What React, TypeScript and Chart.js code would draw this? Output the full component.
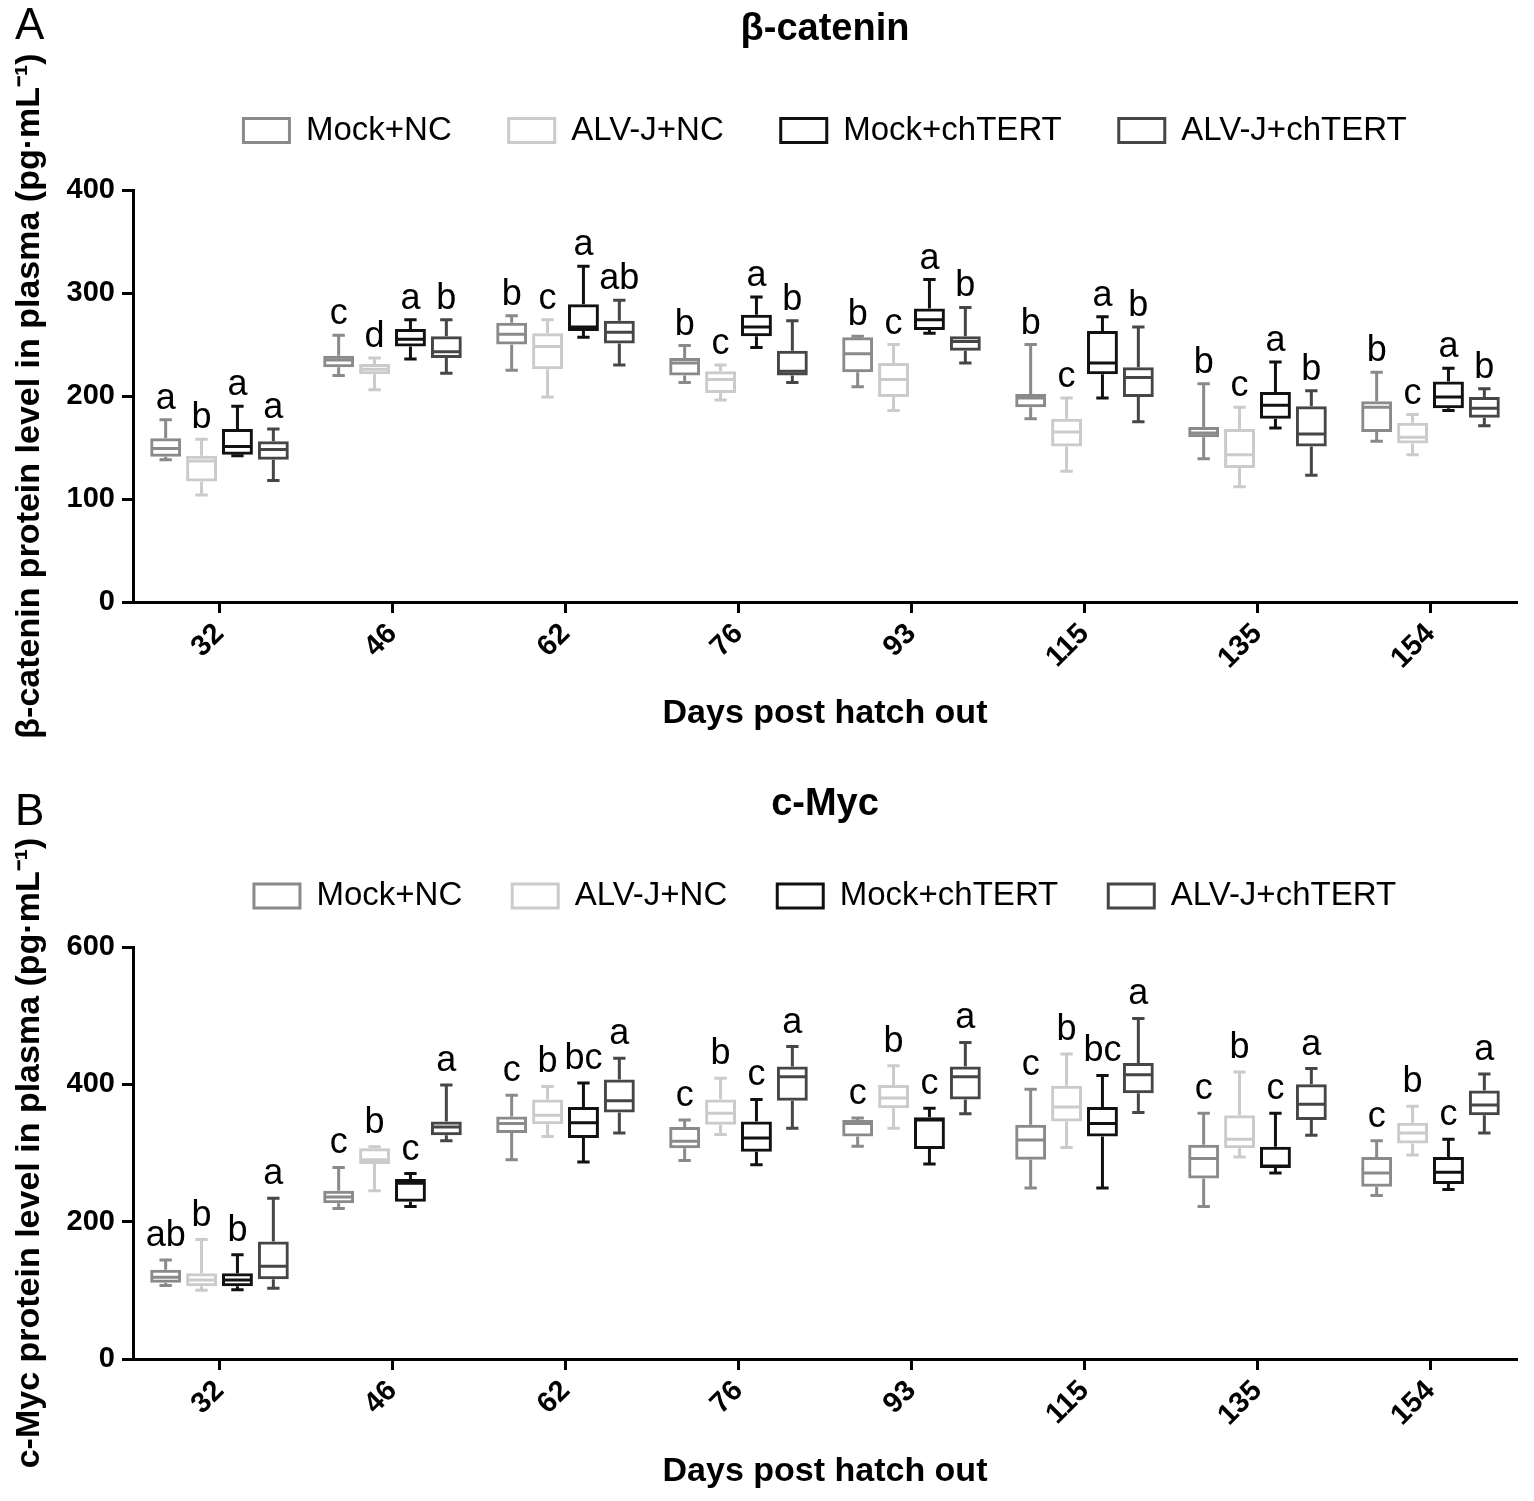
import React, { useEffect, useRef } from 'react';
import { Chart, registerables } from 'chart.js';

Chart.register(...registerables);

const FONT = '"Liberation Sans", Arial, Helvetica, sans-serif';

const days = ['32', '46', '62', '76', '93', '115', '135', '154'];
const groupNames = ['Mock+NC', 'ALV-J+NC', 'Mock+chTERT', 'ALV-J+chTERT'];
const groupColors = ['#8a8a8a', '#cbcbcb', '#111111', '#464646'];

// each entry: [min, q1, median, q3, max] per day
const bcatMockNC = [[138, 141, 149, 159, 177], [220, 228, 235, 239, 259], [225, 250, 260, 271, 278], [213, 220, 232, 237, 249], [209, 223, 241, 257, 258], [178, 189, 198, 202, 250], [139, 160, 164, 170, 212], [156, 165, 189, 195, 223]];
const bcatAlvNC = [[104, 117, 137, 142, 158], [206, 221, 226, 231, 237], [199, 226, 248, 261, 274], [196, 203, 216, 224, 230], [186, 199, 216, 232, 250], [127, 151, 165, 178, 198], [112, 130, 143, 168, 189], [143, 154, 160, 174, 182]];
const bcatMockTert = [[142, 143, 151, 168, 190], [236, 248, 255, 265, 274], [257, 263, 267, 289, 326], [247, 258, 267, 279, 296], [261, 264, 274, 285, 313], [198, 221, 232, 263, 277], [169, 178, 191, 204, 233], [186, 188, 199, 214, 227]];
const bcatAlvTert = [[118, 138, 148, 156, 168], [222, 237, 243, 258, 274], [230, 251, 262, 273, 293], [213, 220, 224, 244, 273], [232, 244, 253, 258, 286], [175, 199, 218, 228, 267], [123, 151, 163, 190, 205], [171, 179, 188, 199, 207]];
const bcatLetters = [['a', 'b', 'a', 'a'], ['c', 'd', 'a', 'b'], ['b', 'c', 'a', 'ab'], ['b', 'c', 'a', 'b'], ['b', 'c', 'a', 'b'], ['b', 'c', 'a', 'b'], ['b', 'c', 'a', 'b'], ['b', 'c', 'a', 'b']];

const mycMockNC = [[107, 111, 119, 130, 144], [219, 227, 236, 245, 279], [290, 329, 343, 353, 384], [289, 307, 317, 338, 348], [310, 324, 343, 348, 351], [249, 290, 319, 341, 393], [222, 263, 292, 312, 358], [238, 251, 271, 294, 318]];
const mycAlvNC = [[100, 106, 115, 125, 174], [245, 284, 290, 307, 309], [324, 342, 355, 378, 397], [327, 341, 358, 378, 409], [336, 365, 380, 399, 427], [308, 346, 367, 398, 444], [294, 307, 320, 355, 418], [297, 314, 329, 344, 368]];
const mycMockTert = [[101, 106, 115, 125, 152], [222, 229, 256, 262, 270], [287, 322, 344, 367, 402], [283, 302, 322, 346, 378], [284, 306, 348, 352, 365], [249, 324, 343, 367, 413], [271, 278, 281, 309, 358], [247, 255, 272, 294, 320]];
const mycAlvTert = [[103, 116, 135, 171, 234], [318, 326, 338, 346, 399], [329, 359, 376, 407, 438], [336, 376, 411, 426, 455], [357, 378, 411, 426, 461], [359, 387, 414, 431, 496], [326, 348, 371, 400, 423], [329, 355, 370, 391, 415]];
const mycLetters = [['ab', 'b', 'b', 'a'], ['c', 'b', 'c', 'a'], ['c', 'b', 'bc', 'a'], ['c', 'b', 'c', 'a'], ['c', 'b', 'c', 'a'], ['c', 'b', 'bc', 'a'], ['c', 'b', 'c', 'a'], ['c', 'b', 'c', 'a']];

const legendSpacer = {
  id: 'legendSpacer',
  beforeLayout(chart: any, _args: any, opts: any) {
    const lg = chart.legend;
    if (lg && !lg._spacerPatched) {
      const orig = lg.fit;
      lg.fit = function () {
        orig.call(this);
        this.height += (opts && opts.extra) || 0;
      };
      lg._spacerPatched = true;
    }
  },
};

const boxWhiskers = {
  id: 'boxWhiskers',
  afterDatasetsDraw(chart: any, _args: any, opts: any) {
    const ctx = chart.ctx;
    const ys = chart.scales.y;
    chart.data.datasets.forEach((ds: any, i: number) => {
      const meta = chart.getDatasetMeta(i);
      if (meta.hidden) return;
      meta.data.forEach((bar: any, j: number) => {
        const s = ds.stats[j];
        const { x, width } = bar.getProps(['x', 'width'], true);
        const half = width / 2;
        const cap = width * 0.2;
        const pMin = ys.getPixelForValue(s[0]);
        const pQ1 = ys.getPixelForValue(s[1]);
        const pMed = ys.getPixelForValue(s[2]);
        const pQ3 = ys.getPixelForValue(s[3]);
        const pMax = ys.getPixelForValue(s[4]);
        ctx.save();
        ctx.strokeStyle = ds.borderColor;
        ctx.lineWidth = 3;
        ctx.lineCap = 'butt';
        ctx.beginPath();
        ctx.moveTo(x - half + 1.5, pMed);
        ctx.lineTo(x + half - 1.5, pMed);
        ctx.moveTo(x, pQ3);
        ctx.lineTo(x, pMax);
        ctx.moveTo(x - cap, pMax);
        ctx.lineTo(x + cap, pMax);
        ctx.moveTo(x, pQ1);
        ctx.lineTo(x, pMin);
        ctx.moveTo(x - cap, pMin);
        ctx.lineTo(x + cap, pMin);
        ctx.stroke();
        ctx.fillStyle = '#000';
        ctx.font = `36px ${FONT}`;
        ctx.textAlign = 'center';
        ctx.textBaseline = 'alphabetic';
        ctx.fillText(ds.letters[j], x, pMax - (opts.gap || 10));
        ctx.restore();
      });
    });
  },
};

interface PanelSpec {
  title: string;
  yTitle: string;
  yMax: number;
  yStep: number;
  stats: number[][][];
  letters: string[][];
  height: number;
  titleTop: number;
  titleBottom: number;
  legendPad: number;
  legendExtra: number;
  xAxisHeight: number;
  bottomPad: number;
  letterGap: number;
}

function buildConfig(p: PanelSpec): any {
  const tickFont = { family: FONT, size: 29, weight: 'bold' as const };
  const axisTitleFont = { family: FONT, size: 34, weight: 'bold' as const };
  return {
    type: 'bar',
    data: {
      labels: days,
      datasets: groupNames.map((name, k) => ({
        label: name,
        data: p.stats[k].map((s) => [s[1], s[3]]),
        stats: p.stats[k],
        letters: p.letters.map((l) => l[k]),
        backgroundColor: 'rgba(255,255,255,0)',
        borderColor: groupColors[k],
        borderWidth: 3,
        borderSkipped: false,
        categoryPercentage: 0.83,
        barPercentage: 0.86,
      })),
    },
    options: {
      animation: false,
      responsive: false,
      maintainAspectRatio: false,
      events: [],
      layout: { padding: { top: 0, left: 0, right: 17, bottom: p.bottomPad } },
      plugins: {
        title: {
          display: true,
          text: p.title,
          color: '#000',
          fullSize: false,
          font: { family: FONT, size: 38, weight: 'bold' },
          padding: { top: p.titleTop, bottom: p.titleBottom },
        },
        legend: {
          display: true,
          position: 'top',
          fullSize: false,
          labels: {
            color: '#000',
            font: { family: FONT, size: 33 },
            boxWidth: 46,
            boxHeight: 24,
            padding: p.legendPad,
          },
        },
        tooltip: { enabled: false },
        legendSpacer: { extra: p.legendExtra },
        boxWhiskers: { gap: p.letterGap },
      },
      scales: {
        x: {
          grid: { display: true, drawOnChartArea: false, drawTicks: true, tickLength: 11, tickWidth: 3, tickColor: '#000', offset: false },
          border: { display: true, color: '#000', width: 3 },
          ticks: { color: '#000', font: tickFont, minRotation: 45, maxRotation: 45, padding: 4, autoSkip: false },
          title: { display: true, text: 'Days post hatch out', color: '#000', font: axisTitleFont, padding: { top: 0, bottom: 0 } },
          afterFit: (s: any) => {
            s.height = p.xAxisHeight;
          },
        },
        y: {
          min: 0,
          max: p.yMax,
          grid: { display: true, drawOnChartArea: false, drawTicks: true, tickLength: 11, tickWidth: 3, tickColor: '#000' },
          border: { display: true, color: '#000', width: 3 },
          ticks: { color: '#000', font: tickFont, stepSize: p.yStep, padding: 7 },
          title: { display: true, text: p.yTitle, color: '#000', font: axisTitleFont, padding: { top: 9.6, bottom: 0 } },
          afterFit: (s: any) => {
            s.width = 133;
          },
        },
      },
    },
    plugins: [legendSpacer, boxWhiskers],
  };
}

const panelA: PanelSpec = {
  title: 'β-catenin',
  yTitle: 'β-catenin protein level in plasma (pg·mL⁻¹)',
  yMax: 400,
  yStep: 100,
  stats: [bcatMockNC, bcatAlvNC, bcatMockTert, bcatAlvTert],
  letters: bcatLetters,
  height: 760,
  titleTop: 7.2,
  titleBottom: 4.2,
  legendPad: 57,
  legendExtra: 33,
  xAxisHeight: 132.4,
  bottomPad: 25.6,
  letterGap: 11,
};

const panelB: PanelSpec = {
  title: 'c-Myc',
  yTitle: 'c-Myc protein level in plasma (pg·mL⁻¹)',
  yMax: 600,
  yStep: 200,
  stats: [mycMockNC, mycAlvNC, mycMockTert, mycAlvTert],
  letters: mycLetters,
  height: 731,
  titleTop: 12.2,
  titleBottom: 1.7,
  legendPad: 50,
  legendExtra: 24.5,
  xAxisHeight: 133.4,
  bottomPad: 8.6,
  letterGap: 14,
};

function Panel({ spec, top }: { spec: PanelSpec; top: number }) {
  const ref = useRef<HTMLCanvasElement | null>(null);
  useEffect(() => {
    if (!ref.current) return;
    const chart = new Chart(ref.current, buildConfig(spec));
    return () => chart.destroy();
  }, [spec]);
  return (
    <canvas
      ref={ref}
      width={1534}
      height={spec.height}
      style={{ position: 'absolute', left: 0, top, width: 1534, height: spec.height, display: 'block' }}
    />
  );
}

export default function App() {
  const labelStyle: React.CSSProperties = {
    position: 'absolute',
    fontFamily: FONT,
    fontSize: 44,
    lineHeight: 1,
    color: '#000',
  };
  return (
    <div style={{ position: 'absolute', left: 0, top: 0, width: 1534, height: 1501, background: '#fff', overflow: 'hidden' }}>
      <Panel spec={panelA} top={0} />
      <Panel spec={panelB} top={770} />
      <div style={{ ...labelStyle, left: 15, top: 2 }}>A</div>
      <div style={{ ...labelStyle, left: 15, top: 788 }}>B</div>
    </div>
  );
}
